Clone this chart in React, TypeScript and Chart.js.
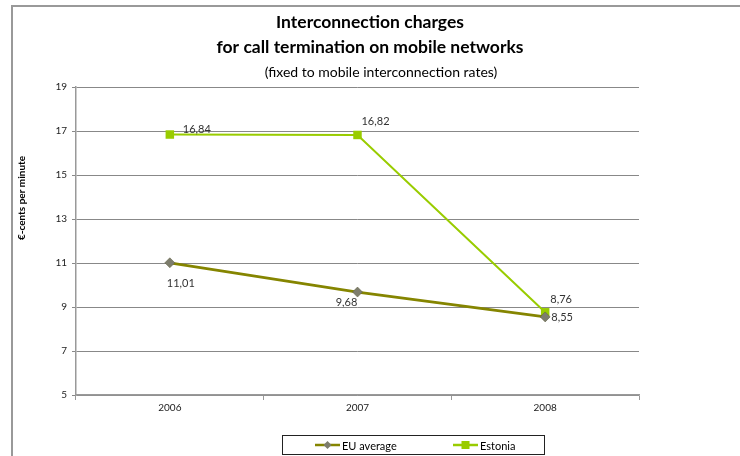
import React, { useEffect, useRef } from "react";
import { Chart, registerables } from "chart.js";

Chart.register(...registerables);

const categories = ["2006", "2007", "2008"];
const euAverage = [11.01, 9.68, 8.55];
const estonia = [16.84, 16.82, 8.76];
const seriesNames = ["EU average", "Estonia"];
const yMin = 5;
const yMax = 19;
const yStep = 2;

const titleLines = ["Interconnection charges", "for call termination on mobile networks"];
const subtitle = "(fixed to mobile interconnection rates)";
const yAxisTitle = "€-cents per minute";

const FONT = "Lato, 'Open Sans', sans-serif";
const EU_LINE = "#858500";
const EU_MARK = "#7d7d6d";
const EST = "#99cc00";

// label offsets (style) relative to each point: [dx, dy]
const labelOffsets = [
  [[11, 21], [-11, 10], [17, 1]],
  [[27, -5], [18, -14], [16, -13]],
];

const fmt = (v: number) => v.toFixed(2).replace(".", ",");

const decorPlugin = {
  id: "decor",
  afterDraw(chart: any) {
    const ctx = chart.ctx;
    ctx.save();
    // frame
    ctx.fillStyle = "#999999";
    ctx.fillRect(11, 5, 729, 2);
    ctx.fillRect(11, 5, 2, 451);
    // titles
    ctx.fillStyle = "#000";
    ctx.textAlign = "center";
    ctx.textBaseline = "middle";
    ctx.font = `bold 17.5px ${FONT}`;
    ctx.fillText(titleLines[0], 370, 22);
    ctx.fillText(titleLines[1], 370, 47);
    ctx.font = `14px ${FONT}`;
    ctx.fillText(subtitle, 381, 72);
    // y axis title
    ctx.save();
    ctx.translate(22, 198);
    ctx.rotate(-Math.PI / 2);
    ctx.font = `bold 10px ${FONT}`;
    ctx.fillText(yAxisTitle, 0, 0);
    ctx.restore();
    // data labels
    ctx.font = `11px ${FONT}`;
    ctx.fillStyle = "#333";
    chart.data.datasets.forEach((ds: any, i: number) => {
      const meta = chart.getDatasetMeta(i);
      meta.data.forEach((pt: any, j: number) => {
        const [dx, dy] = labelOffsets[i][j];
        ctx.fillText(fmt(ds.data[j]), pt.x + dx, pt.y + dy);
      });
    });
    // legend
    ctx.strokeStyle = "#222";
    ctx.lineWidth = 1;
    ctx.strokeRect(282.5, 435.5, 262, 19);
    const items = [
      { x: 315, color: EU_LINE, mark: "diamond" },
      { x: 453, color: EST, mark: "square" },
    ];
    items.forEach((it, k) => {
      const y = 445;
      ctx.strokeStyle = it.color;
      ctx.lineWidth = 2.5;
      ctx.beginPath();
      ctx.moveTo(it.x, y);
      ctx.lineTo(it.x + 25, y);
      ctx.stroke();
      const cx = it.x + 12.5;
      if (it.mark === "diamond") {
        ctx.fillStyle = EU_MARK;
        ctx.beginPath();
        ctx.moveTo(cx - 4, y);
        ctx.lineTo(cx, y - 4);
        ctx.lineTo(cx + 4, y);
        ctx.lineTo(cx, y + 4);
        ctx.closePath();
        ctx.fill();
      } else {
        ctx.fillStyle = EST;
        ctx.fillRect(cx - 4, y - 4, 8, 8);
      }
      ctx.fillStyle = "#000";
      ctx.textAlign = "left";
      ctx.font = `11px ${FONT}`;
      ctx.fillText(seriesNames[k], it.x + 27, y + 1);
    });
    ctx.restore();
  },
};

export default function App() {
  const ref = useRef<HTMLCanvasElement>(null);
  useEffect(() => {
    document.body.style.margin = "0";
    const chart = new Chart(ref.current!, {
      type: "line",
      data: {
        labels: categories,
        datasets: [
          {
            label: seriesNames[0],
            data: euAverage,
            borderColor: EU_LINE,
            backgroundColor: EU_MARK,
            borderWidth: 2.75,
            pointStyle: "rectRot",
            pointRadius: 5,
            pointBorderWidth: 0.5,
            pointBorderColor: "#5a5a3a",
            pointBackgroundColor: EU_MARK,
            tension: 0,
          },
          {
            label: seriesNames[1],
            data: estonia,
            borderColor: EST,
            backgroundColor: EST,
            borderWidth: 2,
            pointStyle: "rect",
            pointRadius: 6,
            pointBorderWidth: 0,
            pointBackgroundColor: EST,
            tension: 0,
          },
        ],
      },
      options: {
        animation: false,
        responsive: false,
        layout: { padding: { left: 0, top: 87, right: 101, bottom: 0 } },
        plugins: {
          legend: { display: false },
          title: { display: false },
          tooltip: { enabled: false },
        },
        scales: {
          x: {
            offset: true,
            grid: {
              offset: true,
              drawOnChartArea: false,
              drawTicks: true,
              tickLength: 5,
              color: "#999",
            },
            border: { color: "#999", width: 1.5 },
            ticks: { color: "#222", font: { family: FONT, size: 10 }, padding: 2 },
            afterFit: (s: any) => {
              s.height = 61;
            },
          },
          y: {
            min: yMin,
            max: yMax,
            ticks: { stepSize: yStep, color: "#222", font: { family: FONT, size: 10 }, padding: 5 },
            grid: { color: "#888", tickLength: 4, lineWidth: 1 },
            border: { color: "#999", width: 1.5 },
            afterFit: (s: any) => {
              s.width = 76;
            },
          },
        },
      },
      plugins: [decorPlugin],
    });
    return () => chart.destroy();
  }, []);
  return (
    <div style={{ position: "absolute", left: 0, top: 0, width: 740, height: 456 }}>
      <canvas ref={ref} width={740} height={456} style={{ display: "block" }} />
    </div>
  );
}
